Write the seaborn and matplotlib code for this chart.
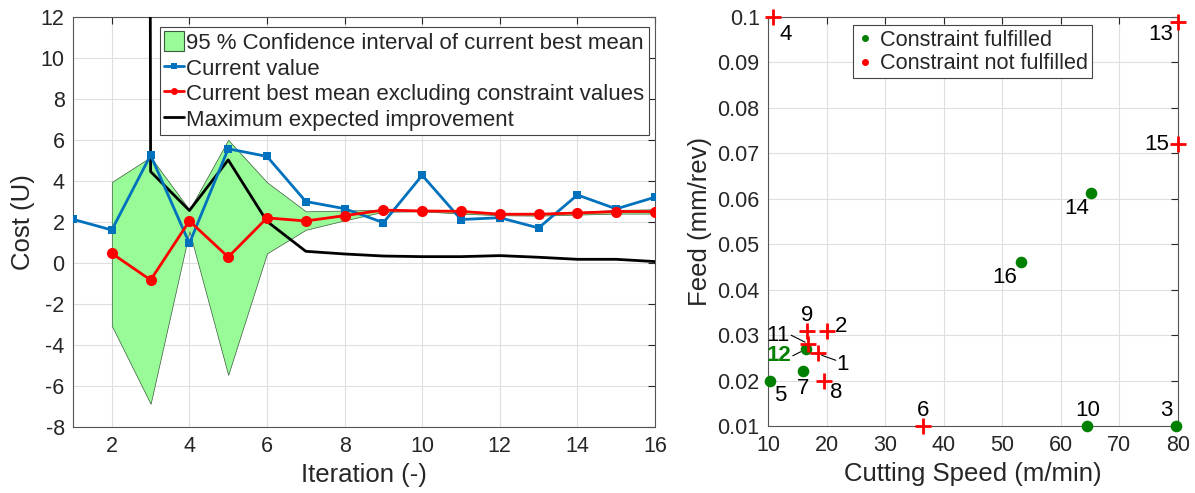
import numpy as np
import pandas as pd
import matplotlib
matplotlib.use("Agg")
import matplotlib.pyplot as plt
import seaborn as sns
from matplotlib.patches import Patch
from matplotlib.lines import Line2D

# ---------------- data (left panel) ----------------
iterations = list(range(1, 17))
current_value = [2.13, 1.61, 5.26, 0.96, 5.57, 5.20, 3.00, 2.65, 1.97, 4.28, 2.12, 2.21, 1.71, 3.32, 2.64, 3.21]
best_mean = [np.nan, 0.47, -0.83, 2.05, 0.29, 2.20, 2.05, 2.31, 2.58, 2.54, 2.52, 2.38, 2.38, 2.44, 2.51, 2.51]
max_ei = [np.nan, 1000.0, 4.46, 2.56, 5.03, 2.03, 0.57, 0.44, 0.34, 0.31, 0.31, 0.36, 0.28, 0.18, 0.18, 0.07]
ci_upper = [np.nan, 3.95, 5.17, 2.60, 6.01, 3.94, 2.52, 2.56, 2.60, 2.55, 2.56, 2.43, 2.43, 2.49, 2.59, 2.62]
ci_lower = [np.nan, -3.06, -6.87, 1.55, -5.46, 0.47, 1.62, 2.08, 2.50, 2.52, 2.41, 2.33, 2.31, 2.36, 2.41, 2.41]

# ---------------- data (right panel) ----------------
point_ids = [1, 2, 3, 4, 5, 6, 7, 8, 9, 10, 11, 12, 13, 14, 15, 16]
cutting_speed = [18.5, 20.0, 79.7, 10.9, 10.3, 36.4, 16.0, 19.6, 16.7, 64.5, 16.85, 16.45, 80.0, 65.2, 80.0, 53.2]
feed = [0.026, 0.031, 0.010, 0.100, 0.020, 0.010, 0.022, 0.020, 0.031, 0.010, 0.028, 0.027, 0.099, 0.0612, 0.072, 0.046]
fulfilled = [False, False, True, False, True, False, True, False, False, True, False, True, False, True, False, True]

# label placement (offsets in pixels: dx right, dy down) and leader lines
label_offsets = {1: (25, 11), 2: (14, -4), 3: (-10, -15), 4: (12, 17), 5: (10, 15), 6: (0, -15),
                 7: (0, 17), 8: (12, 12), 9: (0, -15), 10: (0, -15), 11: (-30, -9), 12: (-27, 7),
                 13: (-17, 13), 14: (-15, 15), 15: (-21, 0), 16: (-16, 15)}
leader_ids = [1, 11, 12]
leader_segments = {11: ((-17, -9), (-3, -2)), 12: ((-13, 7), (-5, 3)), 1: ((4, 2), (18, 7))}

# ---------------- style ----------------
sns.set_style("white")
plt.rcParams["font.family"] = ["Liberation Sans", "DejaVu Sans"]
TXT = "#262626"
plt.rcParams.update({
    "axes.unicode_minus": False,
    "xtick.direction": "in", "ytick.direction": "in",
    "xtick.top": True, "ytick.right": True,
    "xtick.major.size": 5, "ytick.major.size": 5,
    "xtick.major.width": 0.8, "ytick.major.width": 0.8,
    "xtick.major.pad": 6.5, "ytick.major.pad": 6,
    "xtick.color": TXT, "ytick.color": TXT,
    "xtick.labelsize": 15.5, "ytick.labelsize": 15.5,
    "axes.labelcolor": TXT, "axes.labelsize": 18.5,
    "axes.edgecolor": "#555555", "axes.linewidth": 0.8,
})

W, H = 1195, 493
fig = plt.figure(figsize=(W / 100, H / 100), dpi=100)
ax1 = fig.add_axes([73 / W, 1 - 427 / H, (655 - 73) / W, 410 / H])
ax2 = fig.add_axes([768 / W, 1 - 426 / H, (1178 - 768) / W, 409 / H])

for ax in (ax1, ax2):
    ax.grid(True, color="#DFDFDF", linewidth=0.8)
    ax.set_axisbelow(True)
    for s in ax.spines.values():
        s.set_visible(True)

# ---------------- left panel ----------------
df = pd.DataFrame({"it": iterations, "cur": current_value, "best": best_mean,
                   "ei": max_ei, "lo": ci_lower, "hi": ci_upper})
green = "#98FB98"
ax1.fill_between(df["it"], df["lo"], df["hi"], facecolor=green, edgecolor="#3a5a3a",
                 linewidth=0.5, zorder=1)
sns.lineplot(data=df, x="it", y="ei", ax=ax1, color="black", linewidth=2, zorder=3)
sns.lineplot(data=df, x="it", y="cur", ax=ax1, color="#0072BD", linewidth=2, marker="s",
             markersize=6, markeredgewidth=0, zorder=4)
sns.lineplot(data=df, x="it", y="best", ax=ax1, color="#FF0000", linewidth=2, marker="o",
             markersize=8, markeredgewidth=0, zorder=5)

ax1.set_xlim(1, 16)
ax1.set_ylim(-8, 12)
ax1.set_xticks(range(2, 17, 2))
ax1.set_yticks(range(-8, 13, 2))
ax1.set_xlabel("Iteration (-)", labelpad=4)
ax1.set_ylabel("Cost (U)", labelpad=4)

handles1 = [
    Patch(facecolor=green, edgecolor="#3a5a3a", linewidth=0.8),
    Line2D([], [], color="#0072BD", lw=2, marker="s", markersize=4, markeredgewidth=0),
    Line2D([], [], color="#FF0000", lw=2, marker="o", markersize=5, markeredgewidth=0),
    Line2D([], [], color="black", lw=2),
]
labels1 = ["95 % Confidence interval of current best mean", "Current value",
           "Current best mean excluding constraint values", "Maximum expected improvement"]
leg1 = ax1.legend(handles1, labels1, loc="upper left", bbox_to_anchor=(0.149, 0.976),
                  borderaxespad=0, fontsize=16, handlelength=0.9, handleheight=1.0,
                  handletextpad=0.1, borderpad=0.2, labelspacing=0.14, fancybox=False,
                  framealpha=1, edgecolor="#444444")
leg1.get_frame().set_linewidth(0.8)

# ---------------- right panel ----------------
pdf = pd.DataFrame({"id": point_ids, "speed": cutting_speed, "feed": feed, "ok": fulfilled})
ok_df = pdf[pdf["ok"]]
no_df = pdf[~pdf["ok"]]
sns.scatterplot(data=ok_df, x="speed", y="feed", ax=ax2, color="#008000", marker="o",
                s=70, linewidth=0, zorder=4, clip_on=False)
sns.scatterplot(data=no_df, x="speed", y="feed", ax=ax2, color="#FF0000", marker="+",
                s=130, linewidth=2, zorder=4, clip_on=False)

yt = np.round(np.arange(0.01, 0.1001, 0.01), 2)
ax2.set_xlim(10, 80)
ax2.set_ylim(0.01, 0.1)
ax2.set_xticks(range(10, 81, 10))
ax2.set_yticks(yt)
ax2.set_yticklabels([f"{v:g}" for v in yt])
ax2.set_xlabel("Cutting Speed (m/min)", labelpad=4)
ax2.set_ylabel("Feed (mm/rev)", labelpad=4)

for pid, sx, fy in zip(point_ids, cutting_speed, feed):
    dx, dy = label_offsets[pid]
    bold = pid == 12
    ax2.annotate(str(pid), (sx, fy), xytext=(dx * 0.72, -dy * 0.72), textcoords="offset points",
                 ha="center", va="center", fontsize=16,
                 color="#008000" if bold else "black",
                 fontweight="bold" if bold else "normal", zorder=6,
                 annotation_clip=False)

fig.canvas.draw()
inv = ax2.transData.inverted()
for pid in leader_ids:
    i = point_ids.index(pid)
    (x0, y0), (x1, y1) = leader_segments[pid]
    base = ax2.transData.transform((cutting_speed[i], feed[i]))
    p0 = inv.transform((base[0] + x0, base[1] - y0))
    p1 = inv.transform((base[0] + x1, base[1] - y1))
    ax2.plot([p0[0], p1[0]], [p0[1], p1[1]], color="black", lw=0.8, zorder=5)

handles2 = [Line2D([], [], color="#008000", marker="o", markersize=4, lw=0),
            Line2D([], [], color="#FF0000", marker="o", markersize=4, lw=0)]
leg2 = ax2.legend(handles2, ["Constraint fulfilled", "Constraint not fulfilled"],
                  loc="upper left", bbox_to_anchor=(0.207, 0.980), borderaxespad=0,
                  fontsize=15.6, handlelength=0.7, handletextpad=0.35, borderpad=0.2,
                  labelspacing=0.12, fancybox=False, framealpha=1, edgecolor="#444444")
leg2.get_frame().set_linewidth(0.8)

fig.savefig("out.png", dpi=100)
